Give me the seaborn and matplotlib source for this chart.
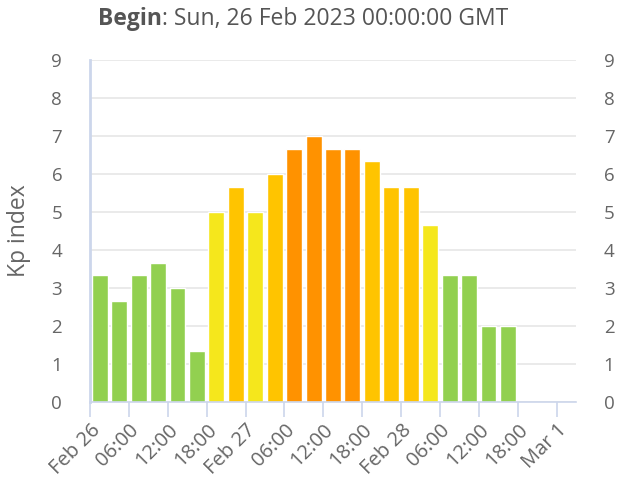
import pandas as pd
import matplotlib
matplotlib.use("Agg")
import matplotlib.pyplot as plt
import seaborn as sns

# Kp index, 3-hour intervals starting Sun 26 Feb 2023 00:00 GMT
start_times = pd.date_range("2023-02-26 00:00", periods=22, freq="3h")
kp_values = [3.33, 2.67, 3.33, 3.67, 3.0, 1.33,
             5.0, 5.67, 5.0, 6.0, 6.67, 7.0, 6.67, 6.67, 6.33, 5.67,
             5.67, 4.67, 3.33, 3.33, 2.0, 2.0]

# storm level colours (NOAA G-scale style)
level_names = ["quiet", "G1", "G2", "G3"]
level_bins = [-1, 4.5, 5.5, 6.5, 10]
level_colors = {"quiet": "#92d050", "G1": "#f5e71c", "G2": "#ffc400", "G3": "#ff9200"}

tick_labels = ["Feb 26", "06:00", "12:00", "18:00", "Feb 27", "06:00", "12:00",
               "18:00", "Feb 28", "06:00", "12:00", "18:00", "Mar 1"]

t0 = pd.Timestamp("2023-02-26 00:00")
df = pd.DataFrame({
    "hour": (start_times - t0) / pd.Timedelta(hours=1) + 1.5,  # middle of each interval
    "kp": kp_values,
})
df["level"] = pd.cut(df["kp"], bins=level_bins, labels=level_names).astype(str)

sns.set_theme(style="white")
plt.rcParams["font.family"] = ["Open Sans", "DejaVu Sans"]

fig = plt.figure(figsize=(6.26, 4.79), dpi=100)
ax = fig.add_axes([90 / 626, 1 - 402 / 479, (576 - 90) / 626, (402 - 60) / 479])

sns.barplot(data=df, x="hour", y="kp", hue="level", palette=level_colors,
            native_scale=True, width=0.82, dodge=False, saturation=1,
            legend=False, ax=ax)

ax.set_xlim(0, 75)
ax.set_ylim(0, 9)
ax.set_yticks(range(0, 10))
ax.set_xticks(range(0, 73, 6))
ax.set_xticklabels(tick_labels, rotation=45, ha="right", rotation_mode="anchor")
ax.set_xticks([24, 48, 72], minor=True)

ax.grid(axis="y", color="#e6e6e6", linewidth=1.2)
ax.grid(axis="x", which="minor", color="#e6e6e6", linewidth=1.2)
ax.set_axisbelow(True)

for s in ["top", "right"]:
    ax.spines[s].set_visible(False)
ax.spines["left"].set_color("#ccd6eb")
ax.spines["left"].set_linewidth(2)
ax.spines["bottom"].set_color("#ccd6eb")
ax.spines["bottom"].set_linewidth(1.2)

ax.tick_params(axis="x", which="major", bottom=True, length=11, width=1.2,
               color="#ccd6eb", labelsize=14.5, labelcolor="#666666", pad=2)
ax.tick_params(axis="x", which="minor", length=0)
ax.tick_params(axis="y", left=False, right=False, labelleft=True, labelright=True,
               labelsize=13.5, labelcolor="#666666", pad=14)

ax.set_xlabel("")
ax.set_ylabel("Kp index", fontsize=16.5, color="#666666", labelpad=15)

# title: bold "Begin" followed by the date
t1 = fig.text(98 / 626, 1 - 19 / 479, "Begin", fontsize=16.5, fontweight="bold",
              color="#555555", va="center")
ax.annotate(": Sun, 26 Feb 2023 00:00:00 GMT", xy=(1, 0), xycoords=t1,
            va="bottom", fontsize=16.5, color="#555555")

fig.savefig("out.png", dpi=100)
